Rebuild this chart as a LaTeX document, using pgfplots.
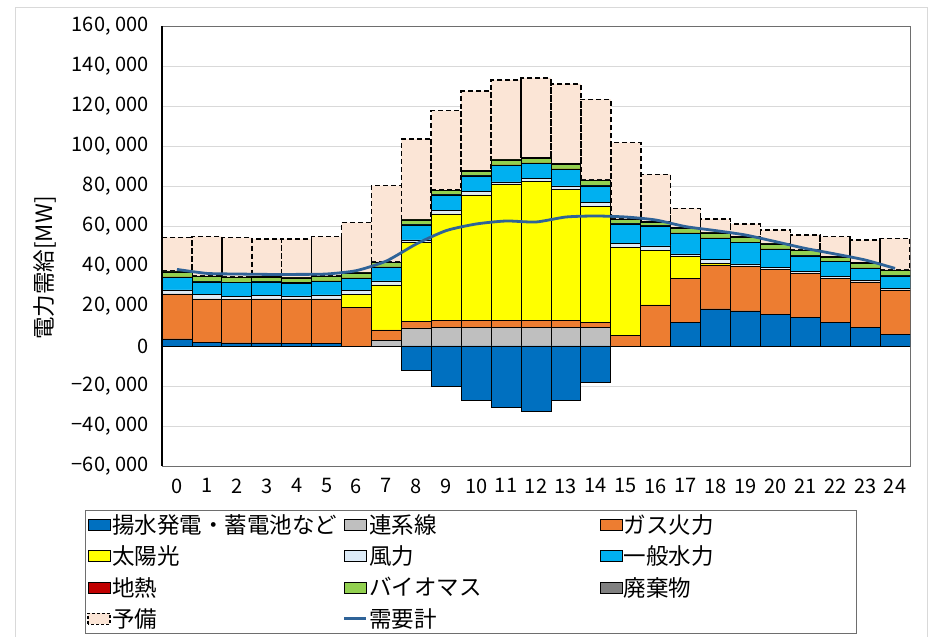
\documentclass[border=0pt]{standalone}
\usepackage{fontspec}
\setmainfont{Noto Sans CJK JP}
\usepackage{pgfplots}
\pgfplotsset{compat=1.18}
\usepackage{pgfplotstable}

\definecolor{cPump}{RGB}{0,112,192}
\definecolor{cInter}{RGB}{191,191,191}
\definecolor{cGas}{RGB}{237,125,49}
\definecolor{cSolar}{RGB}{255,255,0}
\definecolor{cWind}{RGB}{221,235,247}
\definecolor{cHydro}{RGB}{0,176,240}
\definecolor{cGeo}{RGB}{192,0,0}
\definecolor{cBio}{RGB}{146,208,80}
\definecolor{cWaste}{RGB}{128,128,128}
\definecolor{cRes}{RGB}{251,229,214}
\definecolor{cDemand}{RGB}{47,99,152}
\definecolor{gridgray}{RGB}{217,217,217}
\definecolor{zerogray}{RGB}{166,166,166}
\definecolor{boxgray}{RGB}{110,110,110}

\newcommand\tickfont{\fontsize{20}{24}\selectfont}
\newcommand\labelfont{\fontsize{22.5}{27}\selectfont}

% hourly supply stack [MW]
\pgfplotstableread{
h  pump  inter gas   solar wind hydro geo bio  waste res   dem
0  3500  0     22500 0     2000 6300  200 2500 500   16800 38300
1  1800  0     21700 0     2200 6300  200 2500 300   19700 36300
2  1500  0     21800 0     1500 6900  200 2300 300   19700 36000
3  1500  0     22000 0     1800 6700  200 2200 300   18800 35800
4  1300  0     22200 0     1500 6300  300 2400 300   19200 35800
5  1300  0     22200 0     2000 6700  300 2200 300   19700 36000
6  0     0     19200 6600  1900 6100  200 2500 300   24900 37700
7  0     2700  5300  22500 2000 6800  200 2200 300   38200 42500
8  0     9000  3200  39500 1300 7500  200 2300 300   40200 51000
9  0     9300  3300  53400 1700 7800  200 1900 300   39800 57700
10 0     9300  3300  62900 1700 7800  200 2200 300   39800 61000
11 0     9300  3300  68200 1200 8300  200 2500 300   39700 62500
12 0     9300  3300  69700 1500 7500  200 2400 300   39800 62000
13 0     9300  3300  65700 1700 8300  200 2400 300   39800 64500
14 0     9200  2600  57900 2000 8300  200 2500 300   40300 65000
15 0     0     5200  44100 2000 9700  200 2000 300   38200 64500
16 0     0     20500 27300 2200 10000 200 1700 300   23600 63000
17 11800 0     22000 10900 1300 10300 200 2400 300   9600  59700
18 18500 0     22000 800   2000 10500 200 2500 300   6700  57700
19 17500 0     22200 0     1300 10700 200 2500 300   6300  55500
20 15800 0     22500 0     1000 9000  200 2500 300   6700  52200
21 14200 0     22100 0     1000 7700  200 2500 300   7500  48800
22 11800 0     22000 0     1000 7400  200 2000 300   10000 46000
23 9300  0     22700 0     800  6000  200 2400 300   11300 43000
24 5800  0     22200 0     800  6200  200 2500 300   15800 38800
}\supply

% pumping / battery charging (negative side)
\pgfplotstableread{
h  charge
8  -12300
9  -20000
10 -27000
11 -30700
12 -32500
13 -27000
14 -18300
}\charging

\pgfplotsset{
  plotframe/.style={
    at={(162pt,171pt)}, anchor=south west,
    scale only axis, width=748pt, height=440pt,
    xmin=-0.5, xmax=24.5, ymin=-60000, ymax=160000,
  },
  seg/.style={draw=black, line width=0.8pt, fill=#1},
  barleg/.style={legend image code/.code={\draw[##1] (0pt,-5.5pt) rectangle (22pt,5.5pt);}},
  lineleg/.style={legend image code/.code={\draw[##1] (0pt,0pt) -- (22pt,0pt);}},
}

\begin{document}
\begin{tikzpicture}
\useasboundingbox (0pt,0pt) rectangle (930pt,637pt);
\draw[gridgray, line width=0.8pt] (15pt,630pt) rectangle (927pt,-5pt);

\begin{axis}[
  plotframe,
  ybar stacked, bar width=1,
  xtick={0,...,24},
  ytick={-60000,-40000,...,160000},
  scaled y ticks=false,
  yticklabels={{−60, 000},{−40, 000},{−20, 000},0,{20, 000},{40, 000},{60, 000},{80, 000},{100, 000},{120, 000},{140, 000},{160, 000}},
  /pgf/number format/assume math mode=true,
  major tick length=0pt,
  ymajorgrids, grid style={draw=gridgray, line width=0.9pt},
  extra y ticks={0}, extra y tick labels={},
  extra y tick style={grid style={draw=zerogray, line width=1pt}},
  axis line style={draw=boxgray, line width=0.9pt},
  tick label style={font=\tickfont},
  yticklabel style={xshift=-10pt},
  xticklabel style={yshift=-9pt},
  ylabel={電力需給[MW]},
  label style={font=\labelfont},
  ylabel style={at={(axis description cs:-0.156,0.45)}, anchor=center},
]
\addplot[seg=cPump]  table[x=h,y=pump]{\supply};
\addplot[seg=cInter] table[x=h,y=inter]{\supply};
\addplot[seg=cGas]   table[x=h,y=gas]{\supply};
\addplot[seg=cSolar] table[x=h,y=solar]{\supply};
\addplot[seg=cWind]  table[x=h,y=wind]{\supply};
\addplot[seg=cHydro] table[x=h,y=hydro]{\supply};
\addplot[seg=cGeo]   table[x=h,y=geo]{\supply};
\addplot[seg=cBio]   table[x=h,y=bio]{\supply};
\addplot[seg=cWaste] table[x=h,y=waste]{\supply};
\addplot[fill=cRes, draw=black, line width=1.6pt, dash pattern=on 5pt off 3pt]
  table[x=h,y=res]{\supply};
\end{axis}

\begin{axis}[
  plotframe, hide axis, clip=false,
  legend columns=3,
  legend cell align=left,
  legend style={
    at={(axis description cs:-0.1029,-0.1)}, anchor=north west,
    draw=boxgray, line width=0.8pt,
    inner xsep=2pt, inner ysep=2pt,
    font=\labelfont,
    nodes={inner xsep=1.5pt, inner ysep=2pt, text width=229pt},
    row sep=7pt, column sep=0pt,
  },
]
\addplot[ybar, bar width=1, seg=cPump, forget plot] table[x=h,y=charge]{\charging};
\addplot[smooth, tension=0.4, draw=cDemand, line width=2.8pt, forget plot]
  table[x=h,y=dem]{\supply};
% value axis line
\draw[black, line width=1.1pt] (rel axis cs:0,0) -- (rel axis cs:0,1);
\addlegendimage{barleg, fill=cPump, draw=black, line width=0.8pt}
\addlegendentry{揚水発電・蓄電池など}
\addlegendimage{barleg, fill=cInter, draw=black, line width=0.8pt}
\addlegendentry{連系線}
\addlegendimage{barleg, fill=cGas, draw=black, line width=0.8pt}
\addlegendentry{ガス火力}
\addlegendimage{barleg, fill=cSolar, draw=black, line width=0.8pt}
\addlegendentry{太陽光}
\addlegendimage{barleg, fill=cWind, draw=black, line width=0.8pt}
\addlegendentry{風力}
\addlegendimage{barleg, fill=cHydro, draw=black, line width=0.8pt}
\addlegendentry{一般水力}
\addlegendimage{barleg, fill=cGeo, draw=black, line width=0.8pt}
\addlegendentry{地熱}
\addlegendimage{barleg, fill=cBio, draw=black, line width=0.8pt}
\addlegendentry{バイオマス}
\addlegendimage{barleg, fill=cWaste, draw=black, line width=0.8pt}
\addlegendentry{廃棄物}
\addlegendimage{barleg, fill=cRes, draw=black, line width=1.4pt, dash pattern=on 3pt off 2pt}
\addlegendentry{予備}
\addlegendimage{lineleg, draw=cDemand, line width=2.8pt}
\addlegendentry{需要計}
\end{axis}
\end{tikzpicture}
\end{document}
